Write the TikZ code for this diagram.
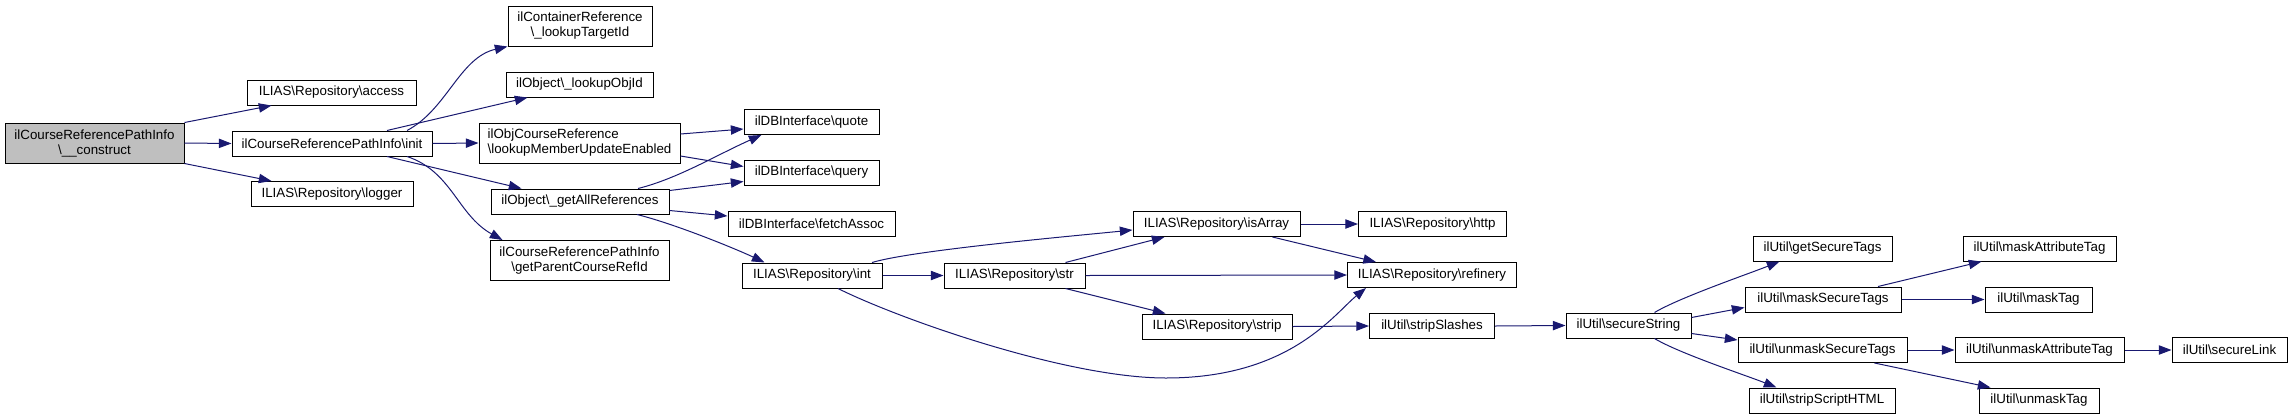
\documentclass[tikz,border=0pt]{standalone}
\usepackage{fontspec}
\setmainfont{Liberation Sans}
\usetikzlibrary{arrows.meta,calc}
\definecolor{callblue}{HTML}{191970}
\newcommand{\nsep}{\textbackslash}
\begin{document}
\begin{tikzpicture}[x=0.75pt,y=-0.75pt,
  fn/.style={draw=black,line width=0.75pt,fill=white,font=\fontsize{10}{11.25}\selectfont,
    inner xsep=2pt,inner ysep=1pt,minimum height=18.75pt,align=center},
  boxw/.style={minimum width=#1*0.75pt},
  twoline/.style={minimum height=30pt},
  root/.style={fn,fill=black!25},
  call/.style={draw=callblue,line width=0.75pt,-{Triangle[length=9.5pt,width=7pt]}}]
\useasboundingbox (0,0) rectangle (2292,419);
\node[root,boxw=179,twoline] (construct) at (94.5,143) {ilCourseReferencePathInfo\\\nsep\_\_construct};
\node[fn,boxw=169] (access) at (331.5,92.5) {ILIAS\nsep Repository\nsep access};
\node[fn,boxw=200] (init) at (332,143.5) {ilCourseReferencePathInfo\nsep init};
\node[fn,boxw=162] (logger) at (332,194) {ILIAS\nsep Repository\nsep logger};
\node[fn,boxw=144,twoline] (targetid) at (580,26) {ilContainerReference\\\nsep\_lookupTargetId};
\node[fn,boxw=147] (objid) at (579.5,84.5) {ilObject\nsep\_lookupObjId};
\node[fn,boxw=201,twoline,align=left] (member) at (579.5,143) {ilObjCourseReference\\\nsep lookupMemberUpdateEnabled};
\node[fn,boxw=178] (allrefs) at (580,201.5) {ilObject\nsep\_getAllReferences};
\node[fn,boxw=179,twoline] (parent) at (579.5,260.5) {ilCourseReferencePathInfo\\\nsep getParentCourseRefId};
\node[fn,boxw=135] (quote) at (811.5,122) {ilDBInterface\nsep quote};
\node[fn,boxw=135] (query) at (811.5,172.5) {ilDBInterface\nsep query};
\node[fn,boxw=167] (fetch) at (811.5,224) {ilDBInterface\nsep fetchAssoc};
\node[fn,boxw=140] (int) at (812,275.5) {ILIAS\nsep Repository\nsep int};
\node[fn,boxw=141] (str) at (1014.5,275.5) {ILIAS\nsep Repository\nsep str};
\node[fn,boxw=167] (isarray) at (1216.5,224) {ILIAS\nsep Repository\nsep isArray};
\node[fn,boxw=150] (strip) at (1217,326.5) {ILIAS\nsep Repository\nsep strip};
\node[fn,boxw=148] (http) at (1432.5,224) {ILIAS\nsep Repository\nsep http};
\node[fn,boxw=169] (refinery) at (1432,275) {ILIAS\nsep Repository\nsep refinery};
\node[fn,boxw=125] (slashes) at (1432,326) {ilUtil\nsep stripSlashes};
\node[fn,boxw=125] (secure) at (1628.5,325.5) {ilUtil\nsep secureString};
\node[fn,boxw=139] (gettags) at (1822.5,248.5) {ilUtil\nsep getSecureTags};
\node[fn,boxw=156] (masktags) at (1823,299.5) {ilUtil\nsep maskSecureTags};
\node[fn,boxw=169] (unmasktags) at (1822.5,350) {ilUtil\nsep unmaskSecureTags};
\node[fn,boxw=146] (striphtml) at (1822,400.5) {ilUtil\nsep stripScriptHTML};
\node[fn,boxw=153] (maskattr) at (2039.5,248.5) {ilUtil\nsep maskAttributeTag};
\node[fn,boxw=107] (masktag) at (2038.5,299.5) {ilUtil\nsep maskTag};
\node[fn,boxw=169] (unmaskattr) at (2039.5,350) {ilUtil\nsep unmaskAttributeTag};
\node[fn,boxw=120] (unmasktag) at (2039,400.5) {ilUtil\nsep unmaskTag};
\node[fn,boxw=115] (securelink) at (2229.5,350) {ilUtil\nsep secureLink};
\coordinate (intdip) at (1166,378);
\draw[call] (construct.north east) -- ($(access.south west)+(25,0)$);
\draw[call] (construct.east) -- (init.west);
\draw[call] (construct.south east) -- ($(logger.north west)+(21,0)$);
\draw[call] ($(init.north)+(75,0)$) .. controls +(40,-21) and +(-48,11) .. (targetid.south west);
\draw[call] ($(init.north)+(55,0)$) -- ($(objid.south west)+(22,0)$);
\draw[call] (init.east) -- (member.west);
\draw[call] ($(init.south)+(55,0)$) -- ($(allrefs.north west)+(31,0)$);
\draw[call] ($(init.south)+(75,0)$) .. controls +(45,15) and +(-45,-25) .. ($(parent.north west)+(13,0)$);
\draw[call] ($(member.east)+(0,-9)$) -- ($(quote.west)+(0,7)$);
\draw[call] ($(member.east)+(0,13)$) -- ($(query.west)+(0,-6)$);
\draw[call] ($(allrefs.north)+(58,0)$) .. controls +(40,-10) and +(-45,20) .. ($(quote.south west)+(18,0)$);
\draw[call] ($(allrefs.east)+(0,-11)$) -- ($(query.west)+(0,9)$);
\draw[call] ($(allrefs.east)+(0,9)$) -- ($(fetch.west)+(0,-8)$);
\draw[call] ($(allrefs.south)+(57,0)$) .. controls +(40,10) and +(-25,-12) .. ($(int.north west)+(23,0)$);
\draw[call] ($(int.north)+(60,0)$) .. controls +(40,-12) and +(-70,7) .. ($(isarray.west)+(0,6)$);
\draw[call] (int.east) -- (str.west);
\draw[call] ($(int.south)+(26,0)$) .. controls +(60,30) and +(-100,0) .. (intdip)
  .. controls +(124,0) and +(-32,26) .. ($(refinery.south west)+(19,0)$);
\draw[call] ($(str.north)+(51,0)$) -- ($(isarray.south west)+(32,0)$);
\draw[call] (str.east) -- (refinery.west);
\draw[call] ($(str.south)+(51,0)$) -- ($(strip.north west)+(24,0)$);
\draw[call] (isarray.east) -- (http.west);
\draw[call] ($(isarray.south)+(56,0)$) -- ($(refinery.north west)+(29,0)$);
\draw[call] (strip.east) -- (slashes.west);
\draw[call] (slashes.east) -- (secure.west);
\draw[call] ($(secure.north)+(26,0)$) .. controls +(25,-15) and +(-30,12) .. ($(gettags.south west)+(27,0)$);
\draw[call] ($(secure.east)+(0,-8)$) -- ($(masktags.west)+(0,8)$);
\draw[call] ($(secure.east)+(0,8)$) -- ($(unmasktags.west)+(0,-10)$);
\draw[call] ($(secure.south)+(26,0)$) .. controls +(25,15) and +(-30,-12) .. ($(striphtml.north west)+(28,0)$);
\draw[call] ($(masktags.north)+(55,0)$) -- ($(maskattr.south west)+(19,0)$);
\draw[call] (masktags.east) -- (masktag.west);
\draw[call] (unmasktags.east) -- (unmaskattr.west);
\draw[call] ($(unmasktags.south)+(52,0)$) -- ($(unmasktag.north west)+(12,0)$);
\draw[call] (unmaskattr.east) -- (securelink.west);
\end{tikzpicture}
\end{document}
